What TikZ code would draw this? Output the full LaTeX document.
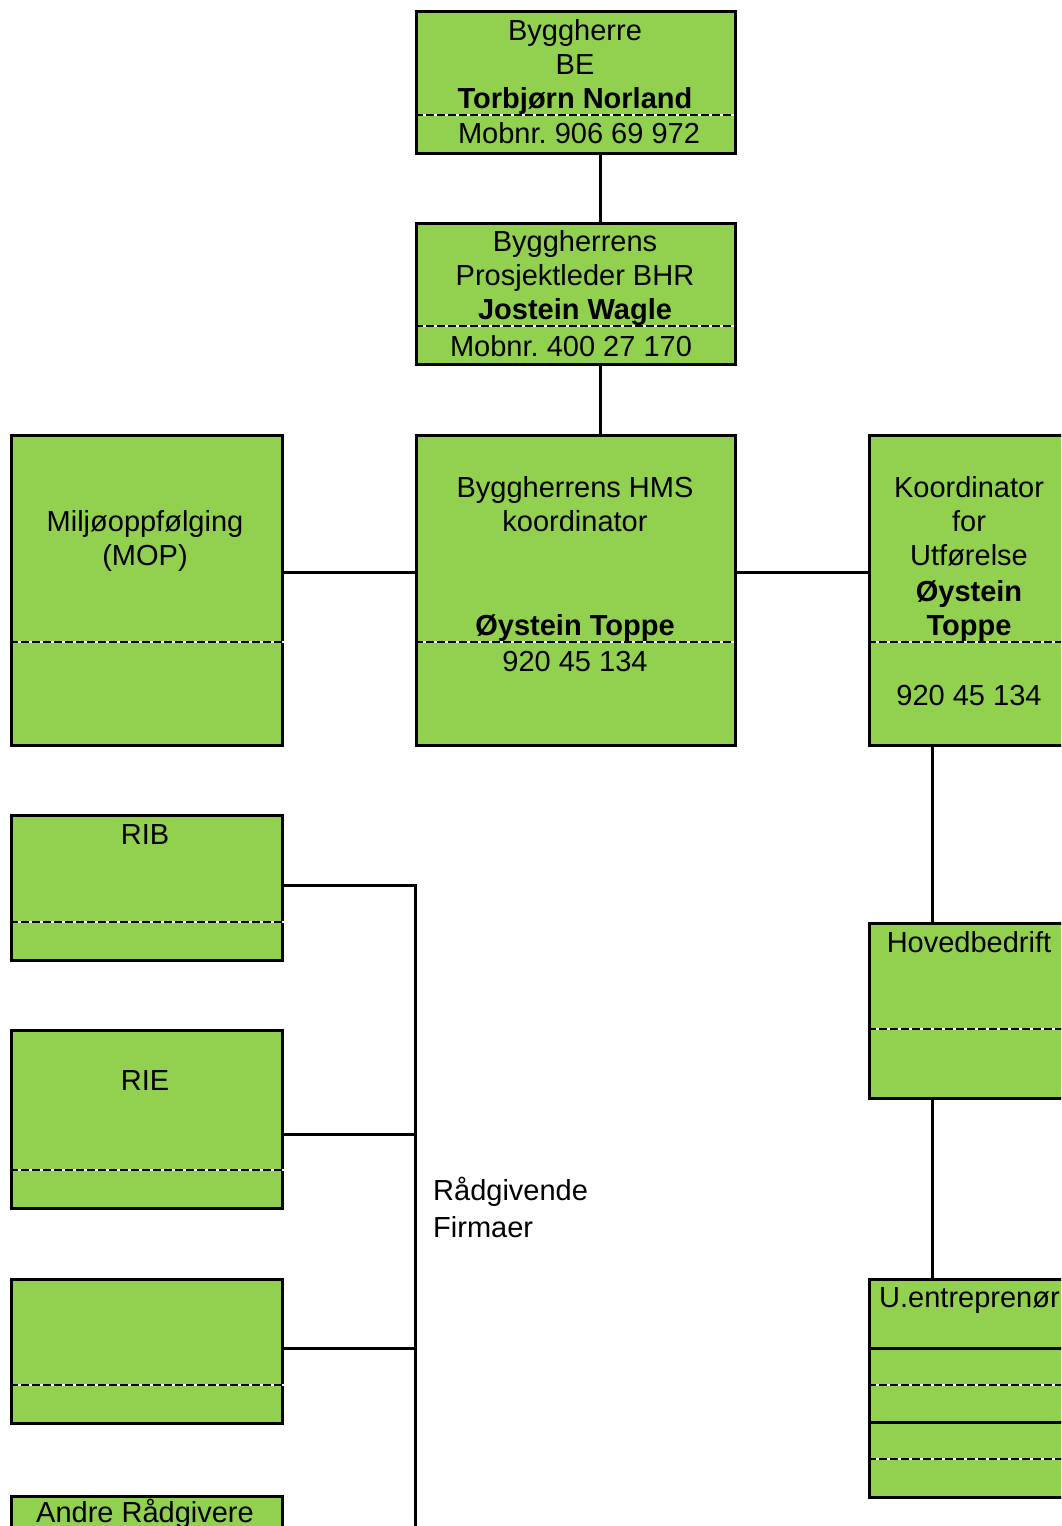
\documentclass[tikz,border=0pt]{standalone}
\usepackage{fontspec}
\setmainfont{Liberation Sans}
\definecolor{boxgreen}{HTML}{92D050}
\frenchspacing
% one dashed divider across a box, offset from its top edge
\newcommand{\sepline}[2]{%
  \draw[white, line width=1.5pt] ([yshift=#2]#1.north west) -- ([yshift=#2]#1.north east);
  \draw[dashsep] ([yshift=#2]#1.north west) -- ([yshift=#2]#1.north east);}
\begin{document}
\begin{tikzpicture}[x=1pt,y=-1pt,
  orgbox/.style={draw, line width=3.3pt, fill=boxgreen, inner sep=0pt, anchor=north west},
  txt/.style={inner sep=0pt, anchor=base, font=\fontsize{29}{34}\selectfont},
  link/.style={line width=3pt},
  dashsep/.style={line width=2.2pt, dash pattern=on 8pt off 3pt}]
\useasboundingbox (0,0) rectangle (1061,1526);
\clip (0,0) rectangle (1061,1526);
\fill[white] (0,0) rectangle (1061,1526);

% boxes
\node[orgbox, minimum width=319pt, minimum height=142pt] (be) at (415,10) {};
\node[orgbox, minimum width=319pt, minimum height=141pt] (bhr) at (415,222) {};
\node[orgbox, minimum width=319pt, minimum height=310pt] (hms) at (415,434) {};
\node[orgbox, minimum width=271pt, minimum height=310pt] (mop) at (10,434) {};
\node[orgbox, minimum width=202pt, minimum height=310pt] (koord) at (868,434) {};
\node[orgbox, minimum width=271pt, minimum height=145pt] (rib) at (10,814) {};
\node[orgbox, minimum width=271pt, minimum height=178pt] (rie) at (10,1029) {};
\node[orgbox, minimum width=271pt, minimum height=144pt] (blank) at (10,1278) {};
\node[orgbox, minimum width=271pt, minimum height=80pt] (andre) at (10,1495) {};
\node[orgbox, minimum width=202pt, minimum height=175pt] (hoved) at (868,922) {};
\node[orgbox, minimum width=202pt, minimum height=218pt] (uent) at (868,1278) {};

% dividers
\sepline{be}{-105pt}
\sepline{bhr}{-104pt}
\sepline{hms}{-208pt}
\sepline{mop}{-208pt}
\sepline{koord}{-208pt}
\sepline{rib}{-108pt}
\sepline{rie}{-141pt}
\sepline{blank}{-107pt}
\sepline{hoved}{-107pt}
\draw[link] ([yshift=-70pt]uent.north west) -- ([yshift=-70pt]uent.north east);
\sepline{uent}{-107pt}
\draw[link] ([yshift=-144pt]uent.north west) -- ([yshift=-144pt]uent.north east);
\sepline{uent}{-181pt}

% texts
\node[txt] (be1) at (575,40) {Byggherre};
\node[txt] (be2) at (575,74) {BE};
\node[txt] (be3) at (575,108) {\bfseries Torbjørn Norland};
\node[txt] (be4) at (579,143) {Mobnr. 906 69 972};
\node[txt] (bhr1) at (575,251) {Byggherrens};
\node[txt] (bhr2) at (575,285) {Prosjektleder BHR};
\node[txt] (bhr3) at (575,319) {\bfseries Jostein Wagle};
\node[txt] (bhr4) at (571,356) {Mobnr. 400 27 170};
\node[txt] (hms1) at (575,497) {Byggherrens HMS};
\node[txt] (hms2) at (575,531) {koordinator};
\node[txt] (hms3) at (575,635) {\bfseries Øystein Toppe};
\node[txt] (hms4) at (575,671) {920 45 134};
\node[txt] (mop1) at (145,531) {Miljøoppfølging};
\node[txt] (mop2) at (145,565) {(MOP)};
\node[txt] (ko1) at (969,497) {Koordinator};
\node[txt] (ko2) at (969,531) {for};
\node[txt] (ko3) at (969,565) {Utførelse};
\node[txt] (ko4) at (969,601) {\bfseries Øystein};
\node[txt] (ko5) at (969,635) {\bfseries Toppe};
\node[txt] (ko6) at (969,705) {920 45 134};
\node[txt] (rib1) at (145,844) {RIB};
\node[txt] (rie1) at (145,1090) {RIE};
\node[txt] (andre1) at (145,1522) {Andre Rådgivere};
\node[txt] (hoved1) at (969,952) {Hovedbedrift};
\node[txt, anchor=base west] (uent1) at (879,1307) {U.entreprenør};
\node[txt, anchor=base west] (rad1) at (433,1200) {Rådgivende};
\node[txt, anchor=base west] (rad2) at (433,1237) {Firmaer};

% connectors
\coordinate (bustop) at (415,885);
\coordinate (busend) at (415,1530);
\coordinate (rieout) at ([yshift=-105pt]rie.north east);
\coordinate (blankout) at ([yshift=-70pt]blank.north east);
\draw[link] ([xshift=24.5pt]be.south) -- ([xshift=24.5pt]bhr.north);
\draw[link] ([xshift=24.5pt]bhr.south) -- ([xshift=24.5pt]hms.north);
\draw[link] ([yshift=-138pt]mop.north east) -- ([yshift=-138pt]hms.north west);
\draw[link] ([yshift=-138pt]hms.north east) -- ([yshift=-138pt]koord.north west);
\draw[link] ([xshift=-38pt]koord.south) -- ([xshift=-38pt]hoved.north);
\draw[link] ([xshift=-38pt]hoved.south) -- ([xshift=-38pt]uent.north);
\draw[link] ([yshift=-71pt]rib.north east) -- (bustop) -- (busend);
\draw[link] (rieout) -- (rieout -| bustop);
\draw[link] (blankout) -- (blankout -| bustop);
\end{tikzpicture}
\end{document}
